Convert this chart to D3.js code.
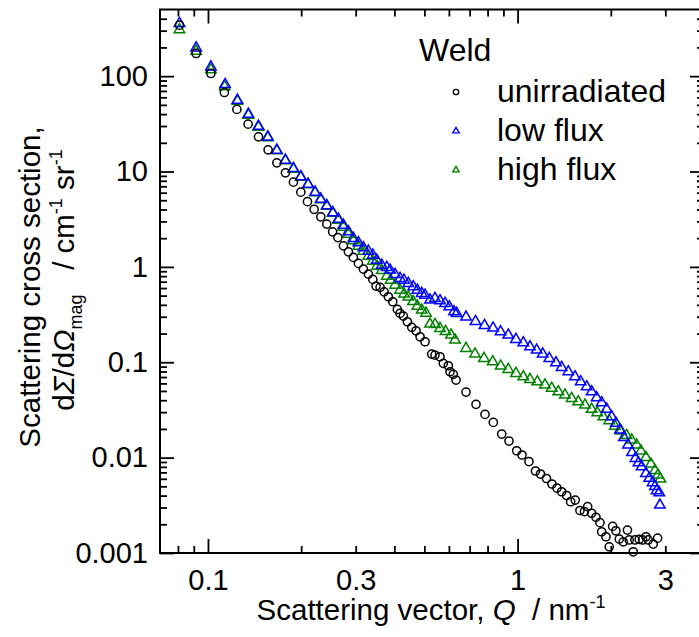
<!DOCTYPE html>
<html>
<head>
<meta charset="utf-8">
<script src="https://cdn.jsdelivr.net/npm/d3@7"></script>
<style>
  body { margin: 0; background: #fff; }
  svg { display: block; }
  text { font-family: "Liberation Sans", Arial, sans-serif; fill: #000; }
</style>
</head>
<body>
<svg id="chart" width="699" height="637"></svg>
<script>
// Magnetic SANS cross sections of weld material, Q in nm^-1, dΣ/dΩ in cm^-1 sr^-1
const unirradiatedQ = [0.0809,0.0916,0.1022,0.1130,0.1240,0.1348,0.1456,0.1564,0.1669,0.1779,
  0.1888,0.1995,0.2096,0.2202,0.2314,0.2420,0.2527,0.2628,0.2738,0.2842,
  0.2949,0.3061,0.3177,0.3297,0.3407,0.3491,0.3597,0.3706,0.3825,0.3953,
  0.4090,0.4173,0.4276,0.4406,0.4552,0.4699,0.4842,0.5025,0.5280,0.5411,
  0.5616,0.5756,0.5974,0.6050,0.6201,0.6326,0.6815,0.7340,0.7849,0.8349,
  0.8887,0.9381,0.9933,1.0332,1.0884,1.1424,1.1856,1.2398,1.2912,1.3402,
  1.3879,1.4402,1.4837,1.5354,1.5900,1.6440,1.6838,1.7346,1.7910,1.8450,
  1.8685,1.9290,1.9770,2.0277,2.0780,2.1297,2.1940,2.2637,2.2941,2.3633,
  2.3933,2.4706,2.5340,2.5971,2.6418,2.7416,2.8330];
const unirradiatedI = [342.3,173.0,106.7,67.46,44.77,31.39,23.10,16.88,12.34,9.69,
  7.74,6.08,4.835,4.015,3.350,2.810,2.333,2.028,1.664,1.439,
  1.257,1.088,0.948,0.840,0.739,0.629,0.610,0.548,0.486,0.431,
  0.3585,0.3254,0.3049,0.2658,0.2322,0.2138,0.1850,0.1640,0.1219,0.1190,
  0.1142,0.0974,0.0919,0.0795,0.0747,0.0651,0.0487,0.0362,0.0284,0.0234,
  0.01768,0.01493,0.01181,0.01065,0.00910,0.00724,0.00673,0.00604,0.00529,0.00480,
  0.00439,0.00401,0.00345,0.00359,0.00279,0.00272,0.00306,0.00261,0.00237,0.00208,
  0.00167,0.00148,0.00116,0.00190,0.00171,0.00140,0.00131,0.00174,0.00137,0.00103,
  0.00137,0.00139,0.00137,0.00148,0.00137,0.00124,0.00143];

const lowFluxQ = [0.0809,0.0916,0.1022,0.1136,0.1245,0.1351,0.1456,0.1561,0.1669,0.1779,
  0.1888,0.1995,0.2106,0.2218,0.2314,0.2420,0.2531,0.2638,0.2738,0.2842,
  0.2949,0.3061,0.3177,0.3297,0.3407,0.3510,0.3643,0.3781,0.3875,0.4021,
  0.4173,0.4298,0.4438,0.4606,0.4745,0.4903,0.5025,0.5214,0.5411,0.5616,
  0.5832,0.6018,0.6233,0.6359,0.6815,0.7313,0.7820,0.8330,0.8808,0.9333,
  0.9881,1.0433,1.0965,1.1527,1.2052,1.2659,1.3305,1.3879,1.4580,1.5323,
  1.5986,1.6716,1.7346,1.8004,1.8685,1.9393,2.0127,2.0780,2.1405,2.2052,
  2.2719,2.3408,2.4021,2.4563,2.5154,2.5971,2.6615,2.7296,2.7766,2.8119,
  2.8668,2.8814];
const lowFluxI = [356.8,198.0,125.2,81.8,56.0,39.96,29.91,23.10,16.76,13.17,
  10.77,8.80,7.38,6.08,5.135,4.390,3.708,3.170,2.742,2.333,
  1.989,1.789,1.586,1.464,1.329,1.178,1.044,0.988,0.926,0.834,
  0.758,0.727,0.671,0.618,0.571,0.528,0.506,0.449,0.467,0.441,
  0.414,0.382,0.338,0.3254,0.2977,0.2671,0.2425,0.2283,0.2088,0.1928,
  0.1738,0.1601,0.1454,0.1342,0.1219,0.1098,0.0988,0.0884,0.0795,0.0705,
  0.0625,0.0553,0.0491,0.0424,0.0376,0.0321,0.0268,0.0229,0.0195,0.01624,
  0.01355,0.01131,0.00983,0.00884,0.00803,0.00684,0.00607,0.00546,0.00498,0.00450,
  0.00429,0.00318];

const highFluxQ = [0.0809,0.0916,0.1022,0.1132,0.1245,0.1351,0.1456,0.1561,0.1669,0.1779,
  0.1888,0.1995,0.2106,0.2218,0.2314,0.2420,0.2531,0.2638,0.2738,0.2842,
  0.2949,0.3061,0.3177,0.3297,0.3407,0.3517,0.3643,0.3781,0.3889,0.4021,
  0.4173,0.4298,0.4438,0.4596,0.4745,0.4903,0.5062,0.5214,0.5411,0.5616,
  0.5853,0.6095,0.6280,0.6815,0.7286,0.7790,0.8311,0.8822,0.9333,0.9881,
  1.0433,1.0965,1.1578,1.2258,1.2888,1.3535,1.4223,1.4949,1.5700,1.6503,
  1.7346,1.8087,1.8909,1.9770,2.0627,2.1569,2.2502,2.3356,2.4243,2.5022,
  2.5971,2.6952,2.7766,2.8395,2.8925];
const highFluxI = [307.2,182.8,117.0,77.6,54.7,39.0,29.2,22.66,16.56,13.01,
  10.59,8.74,7.29,6.01,5.074,4.338,3.664,3.094,2.613,2.207,
  1.886,1.652,1.464,1.298,1.150,1.019,0.915,0.801,0.727,0.644,
  0.571,0.519,0.483,0.433,0.388,0.3525,0.3278,0.2514,0.2484,0.2266,
  0.2098,0.1928,0.1709,0.1398,0.1219,0.1098,0.1012,0.0912,0.0842,0.0765,
  0.0705,0.0662,0.0625,0.0577,0.0533,0.0491,0.0453,0.0418,0.0385,0.0356,
  0.0321,0.0296,0.0268,0.0244,0.0214,0.0190,0.01705,0.01529,0.01355,0.01173,
  0.01002,0.00857,0.00732,0.00657,0.00596];

const seriesNames = ["unirradiated", "low flux", "high flux"];
const xTickLabels = [0.1, 0.3, 1, 3];
const yTickLabels = [0.001, 0.01, 0.1, 1, 10, 100];

// ---- layout ----
const svg = d3.select("#chart");
const W = 699, H = 637;
const plot = { left: 160, right: 704, top: 9.5, bottom: 553 };

const x = d3.scaleLog().domain([0.07, 4]).range([plot.left, plot.right]);
const y = d3.scaleLog().domain([0.001, 500]).range([plot.bottom, plot.top]);

svg.append("rect").attr("width", W).attr("height", H).attr("fill", "#fff");

// log ticks: every 1..9 multiple inside the domain
function logTicks(lo, hi) {
  const out = [];
  for (let e = -4; e <= 3; e++) {
    for (let m = 1; m <= 9; m++) {
      const v = +(m * Math.pow(10, e)).toPrecision(3);
      if (v > lo * 1.0001 && v < hi * 0.9999) out.push(v);
    }
  }
  return out;
}
const isDecade = v => Math.abs(Math.log10(v) - Math.round(Math.log10(v))) < 1e-6;
const xTicks = logTicks(0.07, 4);
const yTicks = logTicks(0.001, 500).concat([0.001]);

const MAJ = 14, MIN = 7;
const TICK_FONT = 29;
const fmt = d => String(d);

function styleAxis(g) {
  g.select(".domain").remove();
  g.selectAll(".tick line").attr("stroke", "#000").attr("stroke-width", 1.8);
  g.selectAll(".tick text").attr("font-size", TICK_FONT).attr("fill", "#000")
    .style("font-family", '"Liberation Sans", Arial, sans-serif');
}

// bottom
svg.append("g").attr("transform", `translate(0,${plot.bottom})`)
  .call(d3.axisBottom(x).tickValues(xTicks).tickSize(0).tickPadding(16)
    .tickFormat(d => xTickLabels.includes(d) ? fmt(d) : ""))
  .call(styleAxis)
  .call(g => g.selectAll(".tick line").attr("y2", d => isDecade(d) ? -MAJ : -MIN));
// top
svg.append("g").attr("transform", `translate(0,${plot.top})`)
  .call(d3.axisTop(x).tickValues(xTicks).tickSize(0).tickFormat(""))
  .call(styleAxis)
  .call(g => g.selectAll(".tick line").attr("y2", d => isDecade(d) ? MAJ : MIN));
// left
svg.append("g").attr("transform", `translate(${plot.left},0)`)
  .call(d3.axisLeft(y).tickValues(yTicks).tickSize(0).tickPadding(12)
    .tickFormat(d => yTickLabels.includes(d) ? fmt(d) : ""))
  .call(styleAxis)
  .call(g => g.selectAll(".tick line").attr("x2", d => isDecade(d) ? MAJ : MIN));
// right
svg.append("g").attr("transform", `translate(${plot.right},0)`)
  .call(d3.axisRight(y).tickValues(yTicks).tickSize(0).tickFormat(""))
  .call(styleAxis)
  .call(g => g.selectAll(".tick line").attr("x2", d => isDecade(d) ? -MAJ : -MIN));

// frame
svg.append("rect")
  .attr("x", plot.left).attr("y", plot.top)
  .attr("width", plot.right - plot.left).attr("height", plot.bottom - plot.top)
  .attr("fill", "none").attr("stroke", "#000").attr("stroke-width", 2);

// ---- data ----
const zip = (qs, is) => qs.map((q, k) => ({ q, i: is[k] }));
const triangle = d3.symbol(d3.symbolTriangle, 48);

function drawTriangles(data, color) {
  svg.append("g").selectAll("path").data(data).join("path")
    .attr("d", triangle)
    .attr("transform", d => `translate(${x(d.q)},${y(d.i)})`)
    .attr("fill", "none").attr("stroke", color).attr("stroke-width", 1.5);
}
drawTriangles(zip(highFluxQ, highFluxI), "#008000");
drawTriangles(zip(lowFluxQ, lowFluxI), "#0000ff");

svg.append("g").selectAll("circle").data(zip(unirradiatedQ, unirradiatedI)).join("circle")
  .attr("cx", d => x(d.q)).attr("cy", d => y(d.i)).attr("r", 4.1)
  .attr("fill", "none").attr("stroke", "#000").attr("stroke-width", 1.5);

// ---- legend ----
const lg = svg.append("g");
lg.append("text").attr("x", 419).attr("y", 61).attr("font-size", 32).text("Weld");
const legendY = [102, 141, 180];
const legendColor = ["#000", "#0000ff", "#008000"];
seriesNames.forEach((name, k) => {
  const cy = legendY[k] - 10;
  if (k === 0) {
    lg.append("circle").attr("cx", 456).attr("cy", cy).attr("r", 2.7)
      .attr("fill", "none").attr("stroke", legendColor[k]).attr("stroke-width", 1.3);
  } else {
    lg.append("path").attr("d", d3.symbol(d3.symbolTriangle, 18))
      .attr("transform", `translate(456,${cy})`)
      .attr("fill", "none").attr("stroke", legendColor[k]).attr("stroke-width", 1.4);
  }
  lg.append("text").attr("x", 497).attr("y", legendY[k]).attr("font-size", 32).text(name);
});

// ---- axis titles ----
const TITLE_FONT = 29.5, SUB_FONT = 18;
const xt = svg.append("text").attr("x", 431).attr("y", 620)
  .attr("text-anchor", "middle").attr("font-size", TITLE_FONT);
xt.append("tspan").text("Scattering vector, ");
xt.append("tspan").attr("font-style", "italic").text("Q");
xt.append("tspan").text("\u00a0 / nm");
xt.append("tspan").attr("font-size", SUB_FONT).attr("dy", -12).text("-1");

svg.append("text")
  .attr("transform", "translate(40,287) rotate(-90)")
  .attr("text-anchor", "middle").attr("font-size", TITLE_FONT)
  .text("Scattering cross section,");

const yt2 = svg.append("text")
  .attr("transform", "translate(74,280) rotate(-90)")
  .attr("text-anchor", "middle").attr("font-size", TITLE_FONT);
yt2.append("tspan").text("d");
yt2.append("tspan").attr("font-style", "italic").text("\u03a3");
yt2.append("tspan").text("/d");
yt2.append("tspan").attr("font-style", "italic").text("\u03a9");
yt2.append("tspan").attr("font-size", SUB_FONT).attr("dy", 8).text("mag");
yt2.append("tspan").attr("dy", -8).text("\u00a0\u00a0 / cm");
yt2.append("tspan").attr("font-size", SUB_FONT).attr("dy", -12).text("-1");
yt2.append("tspan").attr("dy", 12).text("\u00a0sr");
yt2.append("tspan").attr("font-size", SUB_FONT).attr("dy", -12).text("-1");
</script>
</body>
</html>
